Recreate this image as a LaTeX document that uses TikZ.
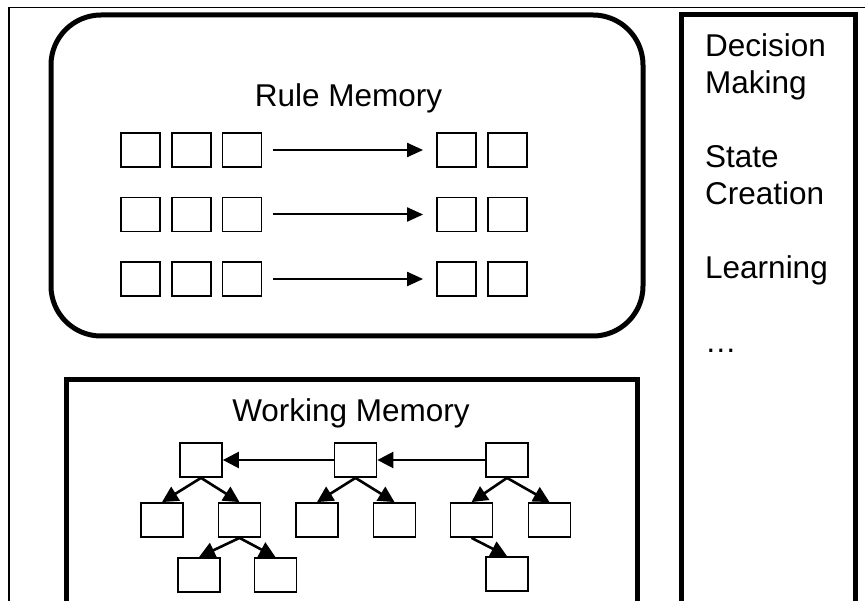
\documentclass[tikz,border=0pt]{standalone}
\usepackage{fontspec}
\setmainfont{Liberation Sans}
\usetikzlibrary{arrows.meta}
\begin{document}
\begin{tikzpicture}[x=1pt,y=-1pt,
  sq/.style={draw,line width=1.8pt,minimum width=39pt,minimum height=34pt,inner sep=0pt},
  tn/.style={draw,line width=1.8pt,minimum width=42pt,minimum height=34pt,inner sep=0pt},
  rarr/.style={line width=2pt,-{Triangle[length=16pt,width=14pt]}},
  tarr/.style={line width=2.6pt,-{Triangle[length=16pt,width=16pt]}},
  lbl/.style={font=\fontsize{31.5}{37}\selectfont,inner sep=0pt},
  heavy/.style={line width=5pt}]
\useasboundingbox (0,0) rectangle (865,601);
% outer frame
\draw[line width=1.5pt] (9,605) -- (9,7.5) -- (866,7.5);
% rule memory
\draw[heavy,rounded corners=50pt] (51,15) rectangle (643,336);
\node[lbl,anchor=base] (rmt) at (348.5,107) {Rule Memory};
\foreach \r/\y in {1/150,2/214.5,3/279}{
  \node[sq] (l\r a) at (140.5,\y) {};
  \node[sq] (l\r b) at (191.5,\y) {};
  \node[sq] (l\r c) at (242,\y) {};
  \node[sq] (r\r a) at (456.5,\y) {};
  \node[sq] (r\r b) at (507.5,\y) {};
  \draw[rarr,shorten <=11pt,shorten >=13pt] (l\r c) -- (r\r a);
}
% working memory
\draw[heavy] (66,610) |- (637,380) -- (637,610);
\node[lbl,anchor=base] (wmt) at (351,422) {Working Memory};
\node[tn] (A) at (201,460) {};
\node[tn] (B) at (355.5,460) {};
\node[tn] (C) at (507,460) {};
\node[tn] (A1) at (162,520) {};
\node[tn] (A2) at (239.5,520) {};
\node[tn] (B1) at (317,520) {};
\node[tn] (B2) at (394.5,520) {};
\node[tn] (C1) at (471.5,520) {};
\node[tn] (C2) at (549.5,520) {};
\node[tn] (A21) at (199,575) {};
\node[tn] (A22) at (275.5,575) {};
\node[tn] (C11) at (507,574) {};
\draw[tarr] (C) -- (B);
\draw[tarr] (B) -- (A);
\draw[tarr] (A.south) -- (A1.north);
\draw[tarr] (A.south) -- (A2.north);
\draw[tarr] (B.south) -- (B1.north);
\draw[tarr] (B.south) -- (B2.north);
\draw[tarr] (C.south) -- (C1.north);
\draw[tarr] (C.south) -- (C2.north);
\draw[tarr] (A2.south) -- (A21.north);
\draw[tarr] (A2.south) -- (A22.north);
\draw[tarr] (C1.south) -- (C11.north);
% right column
\draw[heavy] (681,610) |- (855,15) -- (855,610);
\node[lbl,anchor=base west] (t1) at (705,57) {Decision};
\node[lbl,anchor=base west] (t2) at (705,94) {Making};
\node[lbl,anchor=base west] (t3) at (705,168) {State};
\node[lbl,anchor=base west] (t4) at (705,205) {Creation};
\node[lbl,anchor=base west] (t5) at (705,279) {Learning};
\node[lbl,anchor=base west] (t6) at (705,353) {…};
\end{tikzpicture}
\end{document}
